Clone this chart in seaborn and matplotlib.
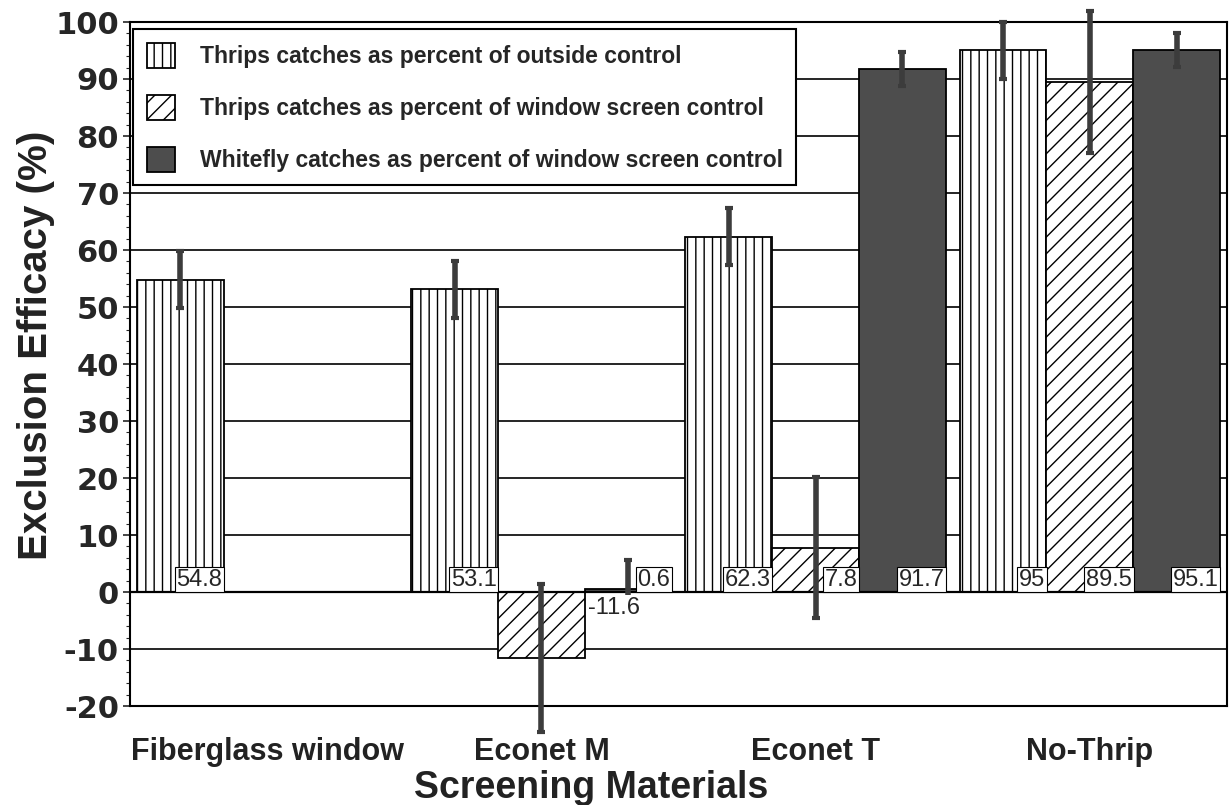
import numpy as np
import pandas as pd
import seaborn as sns
import matplotlib.pyplot as plt
from matplotlib.ticker import MultipleLocator

# values
materials = ["Fiberglass window", "Econet M", "Econet T", "No-Thrip"]
series = [
    "Thrips catches as percent of outside control",
    "Thrips catches as percent of window screen control",
    "Whitefly catches as percent of window screen control",
]
thrips_outside = [54.8, 53.1, 62.3, 95.0]
thrips_window = [np.nan, -11.6, 7.8, 89.5]
whitefly_window = [np.nan, 0.6, 91.7, 95.1]
err_thrips_outside = [5.0, 5.0, 5.0, 5.0]
err_thrips_window = [np.nan, 13.0, 12.4, 12.5]
err_whitefly_window = [np.nan, 5.0, 3.0, 3.0]

values = [thrips_outside, thrips_window, whitefly_window]
errors = [err_thrips_outside, err_thrips_window, err_whitefly_window]

rows = []
for s, vals in zip(series, values):
    for m, v in zip(materials, vals):
        if not np.isnan(v):
            rows.append({"Material": m, "Series": s, "Efficacy": v})
df = pd.DataFrame(rows)

sns.set_style("white")
plt.rcParams["font.family"] = ["Liberation Sans", "DejaVu Sans"]
plt.rcParams["hatch.linewidth"] = 1.0
plt.rcParams["axes.unicode_minus"] = False

fig = plt.figure(figsize=(12.29, 8.05), dpi=100)
ax = fig.add_axes([130 / 1229, 1 - 706 / 805, 1097 / 1229, 684 / 805])

palette = {series[0]: "white", series[1]: "white", series[2]: "#4d4d4d"}
sns.barplot(data=df, x="Material", y="Efficacy", hue="Series", order=materials,
            hue_order=series, palette=palette, width=0.95, edgecolor="black",
            linewidth=1.3, legend=False, ax=ax)

bar_groups = list(ax.containers)
hatches = ["||", "//", ""]
for k, cont in enumerate(bar_groups):
    for bar in cont:
        bar.set_hatch(hatches[k])
        bar.set_edgecolor("black")
        cx = bar.get_x() + bar.get_width() / 2
        i = int(round(cx))
        v = values[k][i]
        e = errors[k][i]
        ax.errorbar(cx, v, yerr=e, fmt="none", ecolor="#3c3c3c", elinewidth=4,
                    capsize=3, capthick=3, clip_on=False, zorder=5)
        txt = f"{v:g}"
        right = bar.get_x() + bar.get_width()
        if v >= 0:
            ax.text(right - 0.005, 0.25, txt, ha="right", va="bottom", fontsize=17,
                    bbox=dict(facecolor="white", edgecolor="black", pad=1.2, linewidth=0.8),
                    zorder=6)
        else:
            ax.text(right + 0.01, -0.8, txt, ha="left", va="top", fontsize=17,
                    bbox=dict(facecolor="white", edgecolor="none", pad=1.2),
                    zorder=6)

ax.set_xlim(-0.5, 3.5)
ax.set_ylim(-20, 100)
ax.yaxis.set_major_locator(MultipleLocator(10))
ax.yaxis.set_minor_locator(MultipleLocator(2))
ax.set_axisbelow(True)
ax.yaxis.grid(True, color="black", linewidth=1.2)
ax.axhline(0, color="black", linewidth=1.6, zorder=1)

for sp in ax.spines.values():
    sp.set_color("black")
    sp.set_linewidth(1.5)

ax.tick_params(axis="y", which="major", direction="out", length=5, width=1.2,
               pad=3, left=True, labelsize=22)
ax.tick_params(axis="y", which="minor", direction="out", length=3, width=0.8, left=True)
ax.tick_params(axis="x", length=0, pad=22, labelsize=22)
for lab in ax.get_yticklabels():
    lab.set_fontfamily("DejaVu Sans")
    lab.set_fontweight("bold")
for lab in ax.get_xticklabels():
    lab.set_fontweight("bold")
    lab.set_color("#222222")

ax.set_ylabel("Exclusion Efficacy (%)", fontsize=29, fontweight="bold", color="#222222")
ax.yaxis.set_label_coords(-0.068, 0.528)
ax.set_xlabel("Screening Materials", fontsize=27, fontweight="bold", color="#222222")
ax.xaxis.set_label_coords(0.42, -0.094)

handles = [cont.patches[0] for cont in bar_groups]
leg = ax.legend(handles, series, loc="upper left", bbox_to_anchor=(0.003, 0.99),
                borderaxespad=0, fancybox=False, framealpha=1, edgecolor="black",
                prop={"size": 16.5, "weight": "bold"}, handlelength=1.2,
                handleheight=1.3, handletextpad=1.1, labelspacing=1.17, borderpad=0.6)
leg.get_frame().set_linewidth(1.5)
leg.set_zorder(10)

fig.savefig("out.png", dpi=100)
